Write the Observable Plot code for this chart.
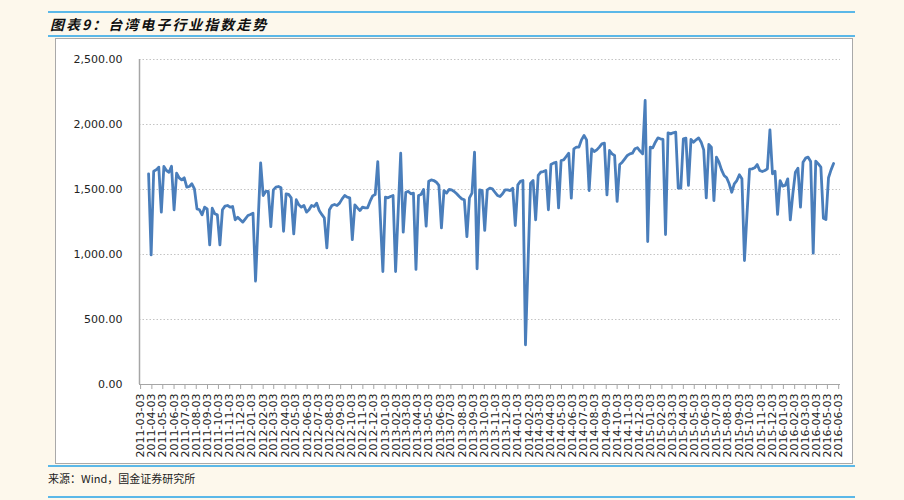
<!DOCTYPE html>
<html><head><meta charset="utf-8">
<script src="https://cdn.jsdelivr.net/npm/d3@7"></script>
<script src="https://cdn.jsdelivr.net/npm/@observablehq/plot@0.6"></script>
<style>
html,body{margin:0;padding:0;background:#fdf8ec;width:904px;height:500px;overflow:hidden;position:relative;}
.hline{position:absolute;left:48px;width:807px;height:2px;background:#5bb8e8;}
#title{position:absolute;left:50px;top:13px;font:italic bold 14px "Noto Sans CJK SC";letter-spacing:2px;color:#111;line-height:22px;white-space:nowrap;}
#box{position:absolute;left:55px;top:38px;width:798px;height:426px;background:#fff;border:1px solid #a9a9a9;box-sizing:border-box;}
#chart{position:absolute;left:55px;top:38px;}
#caption{position:absolute;left:48px;top:470px;font:11px "Noto Sans CJK SC";color:#222;line-height:16px;white-space:nowrap;}
</style></head>
<body>
<div class="hline" style="top:11px"></div>
<div id="title">图表9：台湾电子行业指数走势</div>
<div class="hline" style="top:35px"></div>
<div id="box"></div>
<div id="chart"></div>
<div class="hline" style="top:465px"></div>
<div id="caption">来源：Wind，国金证券研究所</div>
<div class="hline" style="top:496px"></div>
<script>
const startDate = "2011-03-25";
const values = [
1620, 997, 1641, 1651, 1672, 1326, 1677, 1646, 1633, 1679,
1344, 1626, 1590, 1574, 1590, 1518, 1523, 1544, 1505, 1351,
1344, 1305, 1364, 1351, 1074, 1356, 1313, 1305, 1074, 1344,
1372, 1377, 1364, 1369, 1267, 1287, 1267, 1249, 1274, 1300,
1308, 1318, 795, 1249, 1705, 1454, 1485, 1485, 1215, 1497, 1518,
1523, 1513, 1179, 1467, 1462, 1436, 1159, 1421, 1382, 1364,
1377, 1326, 1344, 1377, 1369,
1395, 1338, 1308, 1282, 1051, 1344, 1377, 1385, 1377, 1395,
1428, 1454, 1441, 1436, 1115, 1382, 1359, 1338, 1364, 1359,
1359, 1410, 1451, 1462, 1715, 1287, 869, 1441, 1436, 1446,
1454, 869, 1326, 1779, 1172, 1479, 1485, 1467, 1472, 885,
1454, 1462, 1500, 1218, 1564, 1574, 1569, 1556, 1531, 1205,
1492, 1472, 1500, 1497, 1485, 1467, 1446, 1428, 1421, 1138,
1436, 1472, 1787, 890, 1497, 1492, 1185, 1497,
1510, 1505, 1479, 1454, 1446, 1467, 1497, 1497, 1492, 1510,
1223, 1536, 1562, 1569, 305, 928, 1549, 1569, 1267, 1608,
1633, 1638, 1646, 1344, 1692, 1703, 1710, 1359, 1723, 1728,
1754, 1779, 1433, 1813, 1826, 1826, 1882, 1915, 1882, 1492,
1813, 1792, 1805, 1826, 1851, 1856, 1459, 1800, 1774, 1762,
1408, 1692, 1710, 1736, 1762, 1774, 1779, 1813, 1821, 1795,
1774, 2185, 1100, 1826, 1821, 1864, 1897, 1890,
1885, 1154, 1936, 1928, 1936, 1941, 1510, 1510, 1890, 1895,
1531, 1885, 1864, 1882, 1897, 1864, 1805, 1436, 1846, 1826,
1415, 1749, 1710, 1651, 1608, 1590, 1544, 1479, 1544, 1569,
1613, 1582, 954, 1313, 1656, 1659, 1667, 1692, 1646, 1638,
1646, 1659, 1959, 1621, 1641, 1308, 1569, 1526, 1531, 1582,
1267, 1467, 1633, 1664, 1364, 1710, 1741, 1749, 1715, 1010,
1718, 1697, 1672, 1279, 1269, 1590, 1651, 1700
];
const xTickLabels = [
"2011-03-03","2011-04-03","2011-05-03","2011-06-03","2011-07-03","2011-08-03","2011-09-03","2011-10-03","2011-11-03","2011-12-03",
"2012-01-03","2012-02-03","2012-03-03","2012-04-03","2012-05-03","2012-06-03","2012-07-03","2012-08-03","2012-09-03","2012-10-03","2012-11-03","2012-12-03",
"2013-01-03","2013-02-03","2013-03-03","2013-04-03","2013-05-03","2013-06-03","2013-07-03","2013-08-03","2013-09-03","2013-10-03","2013-11-03","2013-12-03",
"2014-01-03","2014-02-03","2014-03-03","2014-04-03","2014-05-03","2014-06-03","2014-07-03","2014-08-03","2014-09-03","2014-10-03","2014-11-03","2014-12-03",
"2015-01-03","2015-02-03","2015-03-03","2015-04-03","2015-05-03","2015-06-03","2015-07-03","2015-08-03","2015-09-03","2015-10-03","2015-11-03","2015-12-03",
"2016-01-03","2016-02-03","2016-03-03","2016-04-03","2016-05-03","2016-06-03"
];
const yTicks = [0, 500, 1000, 1500, 2000, 2500];

const start = new Date(startDate + "T00:00:00Z");
const data = values.map((v, i) => ({date: d3.utcDay.offset(start, 7 * i), value: v}));
const xTicks = xTickLabels.map(s => new Date(s + "T00:00:00Z"));
const xDomain = [new Date("2011-02-28T00:00:00Z"), new Date("2016-06-08T00:00:00Z")];

const chart = Plot.plot({
  width: 798, height: 426,
  marginLeft: 84, marginRight: 13, marginTop: 21, marginBottom: 80,
  style: {background: "transparent", fontFamily: "DejaVu Sans", fontSize: "11px", color: "#222", overflow: "visible"},
  x: {type: "utc", domain: xDomain, label: null},
  y: {domain: [0, 2500], label: null},
  marks: [
    Plot.gridY(yTicks.slice(1), {stroke: "#c4c4c4", strokeOpacity: 1, strokeDasharray: "1.5,2"}),
    Plot.ruleY([0], {stroke: "#a6a6a6"}),
    Plot.ruleX([xDomain[0]], {stroke: "#a6a6a6", strokeWidth: 1.5}),
    Plot.axisY({ticks: yTicks, tickFormat: d3.format(",.2f"), tickSize: 0, tickPadding: 17, label: null}),
    Plot.axisX({ticks: xTicks, tickFormat: d3.utcFormat("%Y-%m-%d"), tickRotate: -90, tickSize: 5, tickPadding: 4, stroke: "#a6a6a6", label: null}),
    Plot.lineY(data, {x: "date", y: "value", stroke: "#4a7ebb", strokeWidth: 2.8, strokeLinejoin: "round", strokeLinecap: "round"})
  ]
});
document.getElementById("chart").appendChild(chart);
</script>
</body></html>
